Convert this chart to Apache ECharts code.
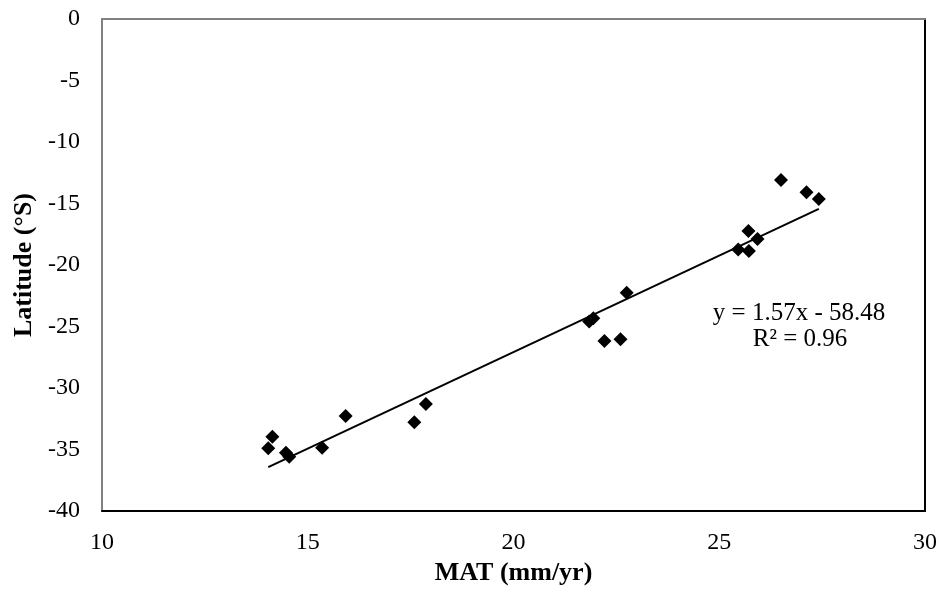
<!DOCTYPE html>
<html>
<head>
<meta charset="utf-8">
<script src="https://cdn.jsdelivr.net/npm/echarts@6/dist/echarts.min.js"></script>
<style>
  html, body { margin: 0; padding: 0; background: #fff; }
  #chart { width: 941px; height: 599px; }
</style>
</head>
<body>
<div id="chart"></div>
<script>
// MAT values (x) and latitude (y)
const matValues = [14.04, 14.14, 14.47, 14.55, 15.35, 15.92, 17.59, 17.87,
  21.84, 21.94, 22.21, 22.6, 22.75,
  25.46, 25.71, 25.72, 25.93, 26.5, 27.12, 27.42]
const latValues = [-34.9, -33.96, -35.26, -35.58, -34.85, -32.28, -32.79, -31.3,
  -24.6, -24.33, -26.18, -26.04, -22.25,
  -18.73, -17.24, -18.86, -17.89, -13.09, -14.09, -14.63]

// trendline end points, as drawn
const trendX = [14.04, 27.42]
const trendY = [-36.44, -15.43]

const xTicks = [10, 15, 20, 25, 30]
const yTicks = [0, -5, -10, -15, -20, -25, -30, -35, -40]

const eqLines = ['y = 1.57x - 58.48', 'R² = 0.96']

const font = 'Liberation Serif'

const chart = echarts.init(document.getElementById('chart'))

const points = matValues.map((v, i) => [v, latValues[i]])
const trend = trendX.map((v, i) => [v, trendY[i]])

const option = {
  backgroundColor: '#fff',
  animation: false,
  grid: { left: 102, right: 16, top: 19, bottom: 88, outerBoundsMode: 'none', containLabel: false },
  xAxis: [{
    type: 'value',
    min: xTicks[0],
    max: xTicks[xTicks.length - 1],
    interval: 5,
    name: 'MAT (mm/yr)',
    nameLocation: 'middle',
    nameGap: 49,
    nameTextStyle: { fontFamily: font, fontSize: 26, fontWeight: 'bold', color: '#000' },
    axisLine: { show: true, onZero: false, lineStyle: { color: '#000', width: 2 } },
    axisTick: { show: false },
    splitLine: { show: false },
    axisLabel: { fontFamily: font, fontSize: 24, color: '#000', margin: 20 }
  }, {
    type: 'value',
    position: 'top',
    min: xTicks[0],
    max: xTicks[xTicks.length - 1],
    axisLine: { show: true, onZero: false, lineStyle: { color: '#808080', width: 2 } },
    axisTick: { show: false },
    axisLabel: { show: false },
    splitLine: { show: false }
  }],
  yAxis: [{
    type: 'value',
    min: yTicks[yTicks.length - 1],
    max: yTicks[0],
    interval: 5,
    name: 'Latitude (°S)',
    nameLocation: 'middle',
    nameGap: 64,
    nameRotate: 90,
    nameTextStyle: { fontFamily: font, fontSize: 26, fontWeight: 'bold', color: '#000' },
    axisLine: { show: true, onZero: false, lineStyle: { color: '#808080', width: 2 } },
    axisTick: { show: false },
    splitLine: { show: false },
    axisLabel: { fontFamily: font, fontSize: 24, color: '#000', margin: 22 }
  }, {
    type: 'value',
    position: 'right',
    min: yTicks[yTicks.length - 1],
    max: yTicks[0],
    axisLine: { show: true, onZero: false, lineStyle: { color: '#000', width: 2 } },
    axisTick: { show: false },
    axisLabel: { show: false },
    splitLine: { show: false }
  }],
  series: [{
    type: 'scatter',
    data: points,
    symbol: 'diamond',
    symbolSize: 14,
    itemStyle: { color: '#000', opacity: 1 },
    z: 3
  }, {
    type: 'line',
    data: trend,
    symbol: 'none',
    lineStyle: { color: '#000', width: 2 },
    z: 2
  }],
  graphic: [{
    type: 'text',
    x: 799,
    y: 313,
    style: {
      text: eqLines[0],
      font: '25px "Liberation Serif"',
      fill: '#000',
      align: 'center',
      verticalAlign: 'middle'
    }
  }, {
    type: 'text',
    x: 800,
    y: 339,
    style: {
      text: eqLines[1],
      font: '25px "Liberation Serif"',
      fill: '#000',
      align: 'center',
      verticalAlign: 'middle'
    }
  }]
}

chart.setOption(option)
</script>
</body>
</html>
